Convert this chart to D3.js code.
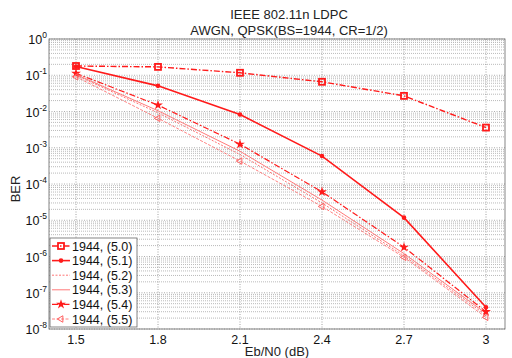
<!DOCTYPE html>
<html>
<head>
<meta charset="utf-8">
<script src="https://cdn.jsdelivr.net/npm/d3@7"></script>
<style>
  body { margin: 0; background: #fff; }
  svg { font-family: "Liberation Sans", Arial, sans-serif; }
</style>
</head>
<body>
<svg id="chart" width="512" height="358"></svg>
<script>
const ebn0 = [1.5, 1.8, 2.1, 2.4, 2.7, 3.0];
const xTicks = [1.5, 1.8, 2.1, 2.4, 2.7, 3];
const xTickLabels = ['1.5', '1.8', '2.1', '2.4', '2.7', '3'];
const yExponents = [0, -1, -2, -3, -4, -5, -6, -7, -8];

const seriesNames = ['1944, (5.0)', '1944, (5.1)', '1944, (5.2)', '1944, (5.3)', '1944, (5.4)', '1944, (5.5)'];
const ber50 = [0.18, 0.17, 0.117, 0.066, 0.027, 0.0036];
const ber51 = [0.175, 0.051, 0.0083, 5.9e-4, 1.18e-5, 4.0e-8];
const ber52 = [0.1, 0.0092, 6.5e-4, 3.0e-5, 1.05e-6, 2.4e-8];
const ber53 = [0.105, 0.0105, 8.0e-4, 3.6e-5, 1.2e-6, 2.7e-8];
const ber54 = [0.113, 0.015, 1.25e-3, 6.1e-5, 1.8e-6, 3.0e-8];
const ber55 = [0.091, 0.0065, 4.3e-4, 2.4e-5, 9.5e-7, 2.1e-8];

const styles = [
  { dash: '6,2,1.5,2', width: 1.4, color: '#ff1a1a', marker: 'square' },
  { dash: null, width: 1.6, color: '#ff1a1a', marker: 'dot' },
  { dash: '2,1.5', width: 0.8, color: '#ff5050', marker: null },
  { dash: null, width: 1.0, color: '#ff7a7a', marker: null },
  { dash: '6,2,1.5,2', width: 1.2, color: '#ff1a1a', marker: 'star' },
  { dash: '3,1.5', width: 0.8, color: '#ff6060', marker: 'tri' },
];

const data = [ber50, ber51, ber52, ber53, ber54, ber55].map((vals, i) => ({
  name: seriesNames[i],
  style: styles[i],
  points: vals.map((v, j) => ({ x: ebn0[j], y: v })),
}));

const svg = d3.select('#chart');
const pLeft = 49, pRight = 505, pTop = 39, pBottom = 329;

// 1.5 sits at 76px and 3.0 at 486px in the original
const pxPerUnit = (486 - 76) / 1.5;
const x = d3.scaleLinear()
  .domain([1.5 - (76 - pLeft) / pxPerUnit, 3 + (pRight - 486) / pxPerUnit])
  .range([pLeft, pRight]);
const y = d3.scaleLog().domain([1e-8, 1]).range([pBottom, pTop]);

// minor grid
const g = svg.append('g');
const minor = [];
for (let e = -8; e < 0; e++) {
  for (let k = 2; k <= 9; k++) minor.push(k * Math.pow(10, e));
}
g.selectAll('.minor').data(minor).enter().append('line')
  .attr('x1', pLeft).attr('x2', pRight)
  .attr('y1', d => y(d)).attr('y2', d => y(d))
  .attr('stroke', '#a8a8a8').attr('stroke-width', 0.8)
  .attr('stroke-dasharray', '1,1');

// major grid
g.selectAll('.majy').data(yExponents).enter().append('line')
  .attr('x1', pLeft).attr('x2', pRight)
  .attr('y1', d => y(Math.pow(10, d))).attr('y2', d => y(Math.pow(10, d)))
  .attr('stroke', '#999').attr('stroke-width', 0.8)
  .attr('stroke-dasharray', '1,1.5');
g.selectAll('.majx').data(xTicks).enter().append('line')
  .attr('x1', d => x(d)).attr('x2', d => x(d))
  .attr('y1', pTop).attr('y2', pBottom)
  .attr('stroke', '#8a8a8a').attr('stroke-width', 0.8)
  .attr('stroke-dasharray', '1,1.5');

// frame
svg.append('rect')
  .attr('x', pLeft).attr('y', pTop)
  .attr('width', pRight - pLeft).attr('height', pBottom - pTop)
  .attr('fill', 'none').attr('stroke', '#666').attr('stroke-width', 0.8);

// tick labels
svg.selectAll('.xl').data(xTicks).enter().append('text')
  .attr('x', d => x(d)).attr('y', 344)
  .attr('text-anchor', 'middle').attr('font-size', 12.5)
  .attr('fill', '#111')
  .text((d, i) => xTickLabels[i]);

const yl = svg.selectAll('.yl').data(yExponents).enter().append('text')
  .attr('x', 47).attr('y', d => y(Math.pow(10, d)) + 5)
  .attr('text-anchor', 'end').attr('font-size', 12.5)
  .attr('fill', '#111');
yl.append('tspan').text('10');
yl.append('tspan').attr('dy', -6).attr('font-size', 8.5).text(d => d);

// titles
svg.append('text').attr('x', 289).attr('y', 19).attr('text-anchor', 'middle')
  .attr('font-size', 13).attr('fill', '#222').text('IEEE 802.11n LDPC');
svg.append('text').attr('x', 289).attr('y', 35).attr('text-anchor', 'middle')
  .attr('font-size', 13).attr('fill', '#222').text('AWGN, QPSK(BS=1944, CR=1/2)');
svg.append('text').attr('x', 277).attr('y', 356).attr('text-anchor', 'middle')
  .attr('font-size', 13).attr('fill', '#222').text('Eb/N0 (dB)');
svg.append('text').attr('transform', 'translate(20,189) rotate(-90)')
  .attr('text-anchor', 'middle').attr('font-size', 13).attr('fill', '#222').text('BER');

const line = d3.line().x(d => x(d.x)).y(d => y(d.y));

function drawMarker(sel, s, cx, cy) {
  if (s.marker === 'square') {
    sel.append('rect').attr('x', cx - 3).attr('y', cy - 3).attr('width', 6).attr('height', 6)
      .attr('fill', 'none').attr('stroke', s.color).attr('stroke-width', 1.8);
  } else if (s.marker === 'dot') {
    sel.append('circle').attr('cx', cx).attr('cy', cy).attr('r', 2.3).attr('fill', s.color);
  } else if (s.marker === 'star') {
    sel.append('path').attr('transform', `translate(${cx},${cy})`)
      .attr('d', d3.symbol(d3.symbolStar, 30)()).attr('fill', s.color);
  } else if (s.marker === 'tri') {
    sel.append('path').attr('transform', `translate(${cx},${cy}) rotate(-90)`)
      .attr('d', d3.symbol(d3.symbolTriangle, 18)()).attr('fill', 'none')
      .attr('stroke', s.color).attr('stroke-width', 1);
  }
}

const series = svg.append('g');
data.forEach(d => {
  const s = d.style;
  series.append('path').datum(d.points).attr('d', line)
    .attr('fill', 'none').attr('stroke', s.color).attr('stroke-width', s.width)
    .attr('stroke-dasharray', s.dash);
  const mg = series.append('g');
  d.points.forEach(p => drawMarker(mg, s, x(p.x), y(p.y)));
});

// legend
const lg = svg.append('g');
lg.append('rect').attr('x', 50).attr('y', 238).attr('width', 87).attr('height', 89)
  .attr('fill', '#fff').attr('stroke', '#666').attr('stroke-width', 0.8);
data.forEach((d, i) => {
  const s = d.style;
  const ly = 246 + i * 14.6;
  lg.append('line').attr('x1', 52).attr('x2', 70).attr('y1', ly).attr('y2', ly)
    .attr('stroke', s.color).attr('stroke-width', s.width).attr('stroke-dasharray', s.dash);
  drawMarker(lg, s, 61, ly);
  lg.append('text').attr('x', 72).attr('y', ly + 4.5).attr('font-size', 12.5)
    .attr('fill', '#111').text(d.name);
});
</script>
</body>
</html>
